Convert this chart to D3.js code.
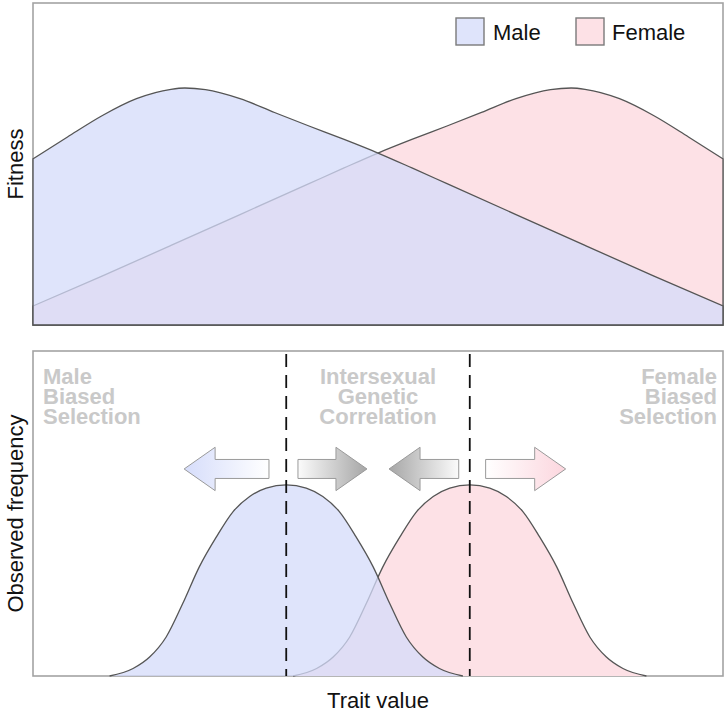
<!DOCTYPE html>
<html>
<head>
<meta charset="utf-8">
<script src="https://cdn.jsdelivr.net/npm/d3@7"></script>
<style>
  body { margin: 0; background: #fff; }
  svg text { font-family: "Liberation Sans", Arial, sans-serif; }
</style>
</head>
<body>
<svg id="chart" width="725" height="713"></svg>
<script>
// fitness curves (top panel), trait value 0..100
const maleTrait = [0, 5, 10, 15, 20, 22, 25, 30, 35, 40, 45, 50, 55, 60, 70, 80, 90, 100]
const maleFitness = [0.516, 0.584, 0.650, 0.703, 0.732, 0.736, 0.731, 0.703, 0.660, 0.618, 0.577, 0.534, 0.487, 0.439, 0.343, 0.247, 0.152, 0.059]
const femaleTrait = [0, 10, 20, 30, 40, 45, 50, 55, 60, 65, 70, 75, 78, 80, 85, 90, 95, 100]
const femaleFitness = [0.059, 0.152, 0.247, 0.343, 0.439, 0.487, 0.534, 0.577, 0.618, 0.660, 0.703, 0.731, 0.736, 0.732, 0.703, 0.650, 0.584, 0.516]

// observed frequency (bottom panel)
const maleFreqTrait = [11.1, 14.5, 16.9, 19.3, 21.7, 24.1, 26.6, 29.0, 31.4, 33.8, 36.7, 39.6, 42.0, 44.4, 46.8, 49.3, 51.7, 54.1, 56.5, 58.9, 62.3]
const maleFreq = [0, 0.039, 0.099, 0.204, 0.379, 0.571, 0.729, 0.860, 0.939, 0.983, 1, 0.983, 0.939, 0.860, 0.729, 0.571, 0.379, 0.204, 0.099, 0.039, 0]
const femaleFreqTrait = [37.7, 41.1, 43.5, 45.9, 48.3, 50.7, 53.2, 55.6, 58.0, 60.4, 63.3, 66.2, 68.6, 71.0, 73.4, 75.9, 78.3, 80.7, 83.1, 85.5, 88.9]
const femaleFreq = [0, 0.039, 0.099, 0.204, 0.379, 0.571, 0.729, 0.860, 0.939, 0.983, 1, 0.983, 0.939, 0.860, 0.729, 0.571, 0.379, 0.204, 0.099, 0.039, 0]

// trait means (dashed lines)
const means = [36.7, 63.3]

// selection arrows: from (tail) -> to (tip), in trait units
const arrows = [
  { from: 34.2, to: 21.9, kind: 'male' },
  { from: 38.4, to: 48.4, kind: 'gray' },
  { from: 61.7, to: 51.6, kind: 'gray' },
  { from: 65.6, to: 77.2, kind: 'female' }
]

const legendLabels = ['Male', 'Female']

const svg = d3.select('#chart')

const panelLeft = 33, panelRight = 723
const top1 = 3, bottom1 = 325
const top2 = 351, bottom2 = 676

const x = d3.scaleLinear().domain([0, 100]).range([panelLeft, panelRight])
const yFit = d3.scaleLinear().domain([0, 1]).range([bottom1, top1])
const yFreq = d3.scaleLinear().domain([0, 1.7]).range([bottom2, top2])

const maleColor = '#d4dbfa'
const maleOpacity = 0.75
const femaleColor = '#fde1e6'
const lineColor = '#555'
const borderColor = '#a3a3a3'

const zip = (xs, ys) => xs.map((v, i) => [v, ys[i]])

// gradients for arrows
const defs = svg.append('defs')
const gradStops = {
  male: ['#d6ddfb', '#ffffff'],
  gray: ['#a6a6a6', '#fbfbfb'],
  female: ['#fcd6de', '#ffffff']
}
arrows.forEach((a, i) => {
  const g = defs.append('linearGradient')
    .attr('id', 'grad' + i)
    .attr('gradientUnits', 'userSpaceOnUse')
    .attr('x1', x(a.to)).attr('x2', x(a.from))
    .attr('y1', 0).attr('y2', 0)
  g.append('stop').attr('offset', 0).attr('stop-color', gradStops[a.kind][0])
  g.append('stop').attr('offset', 1).attr('stop-color', gradStops[a.kind][1])
})

// panel borders
svg.append('rect')
  .attr('x', panelLeft).attr('y', top1)
  .attr('width', panelRight - panelLeft).attr('height', bottom1 - top1)
  .attr('fill', 'none').attr('stroke', borderColor).attr('stroke-width', 1.6)
svg.append('rect')
  .attr('x', panelLeft).attr('y', top2)
  .attr('width', panelRight - panelLeft).attr('height', bottom2 - top2)
  .attr('fill', 'none').attr('stroke', borderColor).attr('stroke-width', 1.6)

// top panel: fitness areas (closed outlines)
const fitArea = d3.area()
  .x(d => x(d[0]))
  .y0(yFit(0))
  .y1(d => yFit(d[1]))
  .curve(d3.curveMonotoneX)

svg.append('path')
  .datum(zip(femaleTrait, femaleFitness))
  .attr('d', fitArea)
  .attr('fill', femaleColor)
  .attr('stroke', lineColor)
  .attr('stroke-width', 1.3)

svg.append('path')
  .datum(zip(maleTrait, maleFitness))
  .attr('d', fitArea)
  .attr('fill', maleColor)
  .attr('fill-opacity', maleOpacity)
  .attr('stroke', 'none')

svg.append('path')
  .datum(zip(maleTrait, maleFitness))
  .attr('d', fitArea)
  .attr('fill', 'none')
  .attr('stroke', lineColor)
  .attr('stroke-width', 1.3)

// legend
const legend = svg.append('g')
legend.selectAll('rect')
  .data(legendLabels)
  .join('rect')
  .attr('x', (d, i) => [456, 576][i])
  .attr('y', 18)
  .attr('width', 28).attr('height', 27)
  .attr('fill', (d, i) => i === 0 ? '#dfe4fb' : femaleColor)
  .attr('stroke', '#7a7a7a')
  .attr('stroke-width', 1.4)
legend.selectAll('text')
  .data(legendLabels)
  .join('text')
  .attr('x', (d, i) => [493, 612][i])
  .attr('y', 40)
  .attr('font-size', 22)
  .attr('fill', '#111')
  .text(d => d)

// bottom panel: frequency distributions
const freqArea = d3.area()
  .x(d => x(d[0]))
  .y0(yFreq(0))
  .y1(d => yFreq(d[1]))
  .curve(d3.curveMonotoneX)
const freqLine = d3.line()
  .x(d => x(d[0]))
  .y(d => yFreq(d[1]))
  .curve(d3.curveMonotoneX)

svg.append('path')
  .datum(zip(femaleFreqTrait, femaleFreq))
  .attr('d', freqArea)
  .attr('fill', femaleColor)
svg.append('path')
  .datum(zip(femaleFreqTrait, femaleFreq))
  .attr('d', freqLine)
  .attr('fill', 'none')
  .attr('stroke', lineColor)
  .attr('stroke-width', 1.3)

svg.append('path')
  .datum(zip(maleFreqTrait, maleFreq))
  .attr('d', freqArea)
  .attr('fill', maleColor)
  .attr('fill-opacity', maleOpacity)
svg.append('path')
  .datum(zip(maleFreqTrait, maleFreq))
  .attr('d', freqLine)
  .attr('fill', 'none')
  .attr('stroke', lineColor)
  .attr('stroke-width', 1.3)

// dashed mean lines
svg.selectAll('.mean')
  .data(means)
  .join('line')
  .classed('mean', true)
  .attr('x1', d => x(d)).attr('x2', d => x(d))
  .attr('y1', top2 + 3).attr('y2', bottom2)
  .attr('stroke', '#111')
  .attr('stroke-width', 1.8)
  .attr('stroke-dasharray', '13,8')

// arrows
const arrowLevel = 1.083
const headLen = 31, headHalf = 21.7, shaftHalf = 9.5
svg.selectAll('.arrow')
  .data(arrows)
  .join('path')
  .classed('arrow', true)
  .attr('d', d => {
    const tip = x(d.to), tail = x(d.from)
    const dir = tail > tip ? 1 : -1
    const base = tip + dir * headLen
    const yc = yFreq(arrowLevel)
    return `M${tip},${yc} L${base},${yc - headHalf} L${base},${yc - shaftHalf} ` +
      `L${tail},${yc - shaftHalf} L${tail},${yc + shaftHalf} L${base},${yc + shaftHalf} ` +
      `L${base},${yc + headHalf} Z`
  })
  .attr('fill', (d, i) => `url(#grad${i})`)
  .attr('stroke', '#9a9a9a')
  .attr('stroke-width', 1)

// region annotations
const noteColor = '#c9c9c9'
const notes = [
  { lines: ['Male', 'Biased', 'Selection'], x: 43, anchor: 'start' },
  { lines: ['Intersexual', 'Genetic', 'Correlation'], x: 378, anchor: 'middle' },
  { lines: ['Female', 'Biased', 'Selection'], x: 717, anchor: 'end' }
]
notes.forEach(n => {
  svg.append('g')
    .selectAll('text')
    .data(n.lines)
    .join('text')
    .attr('x', n.x)
    .attr('y', (d, i) => 383.5 + i * 20)
    .attr('text-anchor', n.anchor)
    .attr('font-size', 22)
    .attr('font-weight', 'bold')
    .attr('fill', noteColor)
    .text(d => d)
})

// axis titles
svg.append('text')
  .attr('transform', `translate(23,${(top1 + bottom1) / 2}) rotate(-90)`)
  .attr('text-anchor', 'middle')
  .attr('font-size', 22)
  .attr('fill', '#111')
  .text('Fitness')
svg.append('text')
  .attr('transform', `translate(23,${(top2 + bottom2) / 2}) rotate(-90)`)
  .attr('text-anchor', 'middle')
  .attr('font-size', 22)
  .attr('fill', '#111')
  .text('Observed frequency')
svg.append('text')
  .attr('x', (panelLeft + panelRight) / 2)
  .attr('y', 708)
  .attr('text-anchor', 'middle')
  .attr('font-size', 22)
  .attr('fill', '#111')
  .text('Trait value')
</script>
</body>
</html>
